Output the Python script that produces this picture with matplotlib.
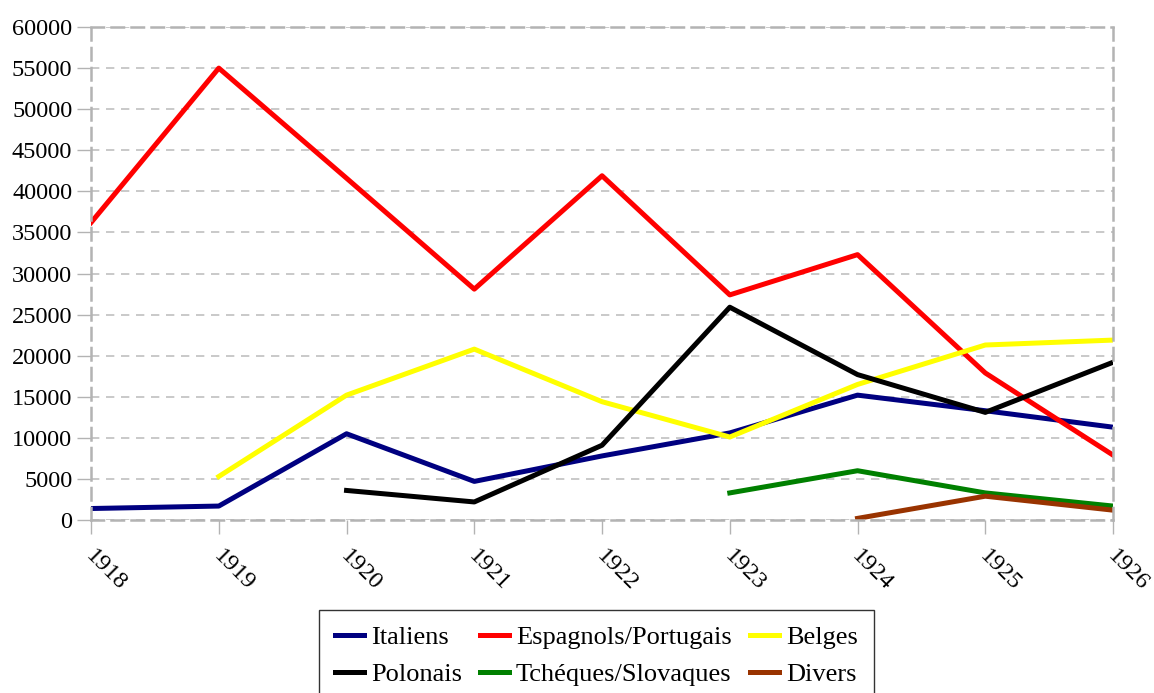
import matplotlib
matplotlib.use("Agg")
import matplotlib.pyplot as plt
import matplotlib.transforms as mtransforms
import numpy as np

years = ["1918", "1919", "1920", "1921", "1922", "1923", "1924", "1925", "1926"]
nan = np.nan
italiens = [1400, 1700, 10500, 4700, 7800, 10600, 15200, 13300, 11300]
espagnols = [36200, 55000, 41600, 28100, 41900, 27400, 32300, 17900, 7900]
belges = [nan, 5300, 15200, 20800, 14400, 10100, 16500, 21300, 21900]
polonais = [nan, nan, 3600, 2200, 9100, 25900, 17700, 13100, 19200]
tcheques = [nan, nan, nan, nan, nan, 3300, 6000, 3300, 1700]
divers = [nan, nan, nan, nan, nan, nan, 200, 2900, 1200]

series = [
    ("Italiens", italiens, "#000080"),
    ("Espagnols/Portugais", espagnols, "#ff0000"),
    ("Belges", belges, "#ffff00"),
    ("Polonais", polonais, "#000000"),
    ("Tchéques/Slovaques", tcheques, "#008000"),
    ("Divers", divers, "#993300"),
]

plt.rcParams['font.family'] = ['Liberation Serif', 'DejaVu Serif']

fig = plt.figure(figsize=(11.54, 6.93), dpi=100)
ax = fig.add_axes([0.0789, 0.2496, 0.8856, 0.7114])

x = np.arange(len(years))
handles = []
for name, vals, col in series:
    h, = ax.plot(x, vals, color=col, lw=3.6, label=name)
    handles.append(h)

ax.set_xlim(0, len(years) - 1)
ax.set_ylim(0, 60000)
ax.set_yticks(np.arange(0, 60001, 5000))
ax.set_xticks(x)
ax.set_xticklabels(years, rotation=-45, ha='left', va='top', rotation_mode='anchor')
ax.tick_params(axis='both', labelsize=17.5, color='#b3b3b3', length=10, width=1)
ax.tick_params(axis='y', pad=3.5)
ax.tick_params(axis='x', pad=6)
offset = mtransforms.ScaledTranslation(5 / 100, -3 / 100, fig.dpi_scale_trans)
for lab in ax.get_xticklabels():
    lab.set_transform(lab.get_transform() + offset)
ax.grid(axis='y', color='#c0c0c0', linestyle=(0, (5, 4)), lw=1.2)
ax.set_axisbelow(True)
for s in ax.spines.values():
    s.set_color('#b3b3b3')
    s.set_linestyle((0, (5, 3)))
    s.set_linewidth(1.8)

order = [0, 3, 1, 4, 2, 5]
leg = fig.legend([handles[i] for i in order], [series[i][0] for i in order],
                 loc='upper center', bbox_to_anchor=(596.5 / 1154, 1 - 610 / 693),
                 borderaxespad=0, ncol=3,
                 fontsize=19, frameon=True, fancybox=False, edgecolor='black',
                 handlelength=1.1, handletextpad=0.25, columnspacing=0.7,
                 labelspacing=0.5, borderpad=0.6)
leg.get_frame().set_linewidth(1.0)

fig.savefig("out.png", dpi=100)
